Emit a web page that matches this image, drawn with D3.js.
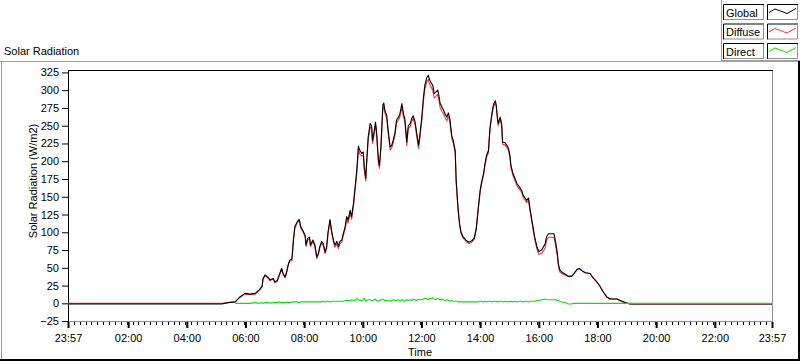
<!DOCTYPE html>
<html>
<head>
<meta charset="utf-8">
<script src="https://cdn.jsdelivr.net/npm/d3@7"></script>
<style>
  body { margin: 0; background: #fff; }
  svg { display: block; font-family: "Liberation Sans", Arial, sans-serif; font-size: 11px; }
</style>
</head>
<body>
<svg></svg>
<script>
// readings, one entry per time stamp (first 23:57 is the day before)
const times = [
  "23:57","05:12","05:24","05:39","05:49","05:59","06:09","06:20","06:28","06:34",
  "06:36","06:40","06:47","06:50","06:57","07:00","07:05","07:09","07:14","07:17",
  "07:21","07:24","07:28","07:31","07:35","07:38","07:41","07:46","07:50","07:53",
  "07:57","08:02","08:04","08:07","08:11","08:13","08:18","08:22","08:26","08:29",
  "08:32","08:36","08:39","08:43","08:46","08:49","08:53","08:56","09:00","09:03",
  "09:07","09:10","09:13","09:17","09:20","09:24","09:27","09:30","09:34","09:37",
  "09:41","09:44","09:48","09:51","09:54","09:58","10:01","10:03","10:06","10:08",
  "10:11","10:15","10:18","10:20","10:23","10:26","10:28","10:32","10:34","10:37",
  "10:41","10:43","10:45","10:49","10:52","10:56","10:59","11:02","11:06","11:09",
  "11:13","11:16","11:20","11:23","11:26","11:30","11:33","11:37","11:40","11:43",
  "11:47","11:50","11:54","11:57","12:01","12:04","12:07","12:11","12:14","12:16",
  "12:19","12:23","12:26","12:29","12:33","12:35","12:38","12:42","12:45","12:48",
  "12:52","12:55","12:58","13:02","13:05","13:09","13:11","13:13","13:15","13:18",
  "13:21","13:25","13:31","13:37","13:43","13:48","13:52","13:56","14:00","14:03",
  "14:07","14:10","14:13","14:17","14:20","14:24","14:27","14:31","14:33","14:35",
  "14:37","14:41","14:44","14:46","14:51","14:55","14:58","15:01","15:03","15:07",
  "15:11","15:15","15:20","15:25","15:28","15:32","15:35","15:39","15:42","15:44",
  "15:48","15:52","15:56","16:00","16:06","16:13","16:16","16:20","16:26","16:31",
  "16:35","16:38","16:40","16:43","16:47","16:54","17:00","17:07","17:11","17:14",
  "17:19","17:23","17:28","17:35","17:45","17:52","17:59","18:05","18:12","18:19",
  "18:26","18:40","18:46","18:57","19:07","23:57"
];

const globalVals = [
  -1,-1,1,2,9,14,13,14,19,24,
  35,40,36,33,35,30,32,40,49,42,
  37,44,56,61,62,89,108,115,118,108,
  103,96,82,91,93,82,89,82,65,70,
  80,87,84,72,80,101,118,103,89,82,
  87,80,87,89,98,108,122,117,131,122,
  141,162,190,221,215,211,213,192,176,201,
  234,253,250,229,241,255,243,201,194,220,
  279,282,272,264,243,220,222,229,241,258,
  262,267,281,267,260,227,250,253,260,264,
  255,241,222,239,264,290,307,318,321,316,
  311,307,295,297,300,295,282,276,272,267,
  262,268,260,236,229,215,173,152,133,112,
  100,94,89,86,88,92,105,133,159,171,
  183,197,208,215,246,267,279,285,279,264,
  253,262,253,227,226,222,218,208,194,183,
  176,169,164,159,152,148,145,148,133,125,
  108,92,80,73,75,84,94,98,98,98,
  84,70,56,47,44,41,38,38,41,44,
  48,49,46,43,42,35,30,24,16,9,
  6,6,4,1,-1,-1
];

const diffuseVals = [
  0,0,1,2,9,13,12,13,18,23,
  34,39,35,32,34,29,31,38,48,41,
  36,42,55,60,60,87,106,113,117,106,
  101,94,80,89,91,80,87,80,63,68,
  78,85,82,70,77,98,116,100,86,79,
  84,77,84,86,95,105,118,113,127,118,
  137,158,185,216,210,207,209,188,172,197,
  230,248,246,225,237,250,239,197,190,216,
  274,277,268,260,239,216,218,225,237,254,
  258,263,276,263,256,222,246,249,256,260,
  251,236,218,234,259,285,301,312,315,310,
  305,300,289,291,294,289,276,270,267,262,
  257,263,256,232,225,212,170,149,130,110,
  98,92,87,84,86,90,103,131,156,168,
  180,194,205,212,243,264,276,282,276,261,
  250,259,250,224,223,219,215,205,191,180,
  173,166,161,156,149,145,142,145,130,122,
  105,89,77,69,70,78,89,93,93,93,
  79,66,52,44,42,40,38,38,41,44,
  48,49,46,43,42,35,30,24,16,9,
  6,6,4,1,-1,-1
];

const directVals = [
  null,null,null,0,0,0,0,1,0,1,
  0,1,1,0,1,1,1,2,1,1,
  1,2,1,1,2,2,2,2,1,2,
  2,2,2,2,2,2,2,2,2,2,
  2,2,3,2,3,3,2,3,3,3,
  3,3,3,3,3,4,4,4,4,5,
  4,4,7,5,4,4,5,7,3,4,
  5,5,4,4,5,6,4,3,4,5,
  6,5,4,4,4,3,4,5,4,4,
  5,3,5,4,3,5,4,5,4,6,
  5,4,6,5,5,6,7,6,5,7,
  6,8,6,5,7,6,5,6,5,4,
  5,4,3,4,3,3,3,3,2,2,
  2,2,2,2,2,2,2,2,3,3,
  2,3,2,3,3,2,3,3,2,3,
  2,3,3,2,3,2,3,2,3,2,
  3,2,3,3,2,3,3,2,3,3,
  3,3,4,4,5,6,5,5,5,5,
  5,4,4,3,2,1,-1,-1,0,0,
  0,0,0,0,0,0,0,0,0,0,
  0,0,0,0,0,0
];

const seriesNames  = ["Global", "Diffuse", "Direct"];
const seriesColors = ["#000000", "#ff3333", "#00e600"];
const yTicks = [-25, 0, 25, 50, 75, 100, 125, 150, 175, 200, 225, 250, 275, 300, 325];
const xTickLabels = ["23:57","02:00","04:00","06:00","08:00","10:00","12:00",
                     "14:00","16:00","18:00","20:00","22:00","23:57"];

const parseTime = d3.timeParse("%H:%M");
const toDate = (s, first) => first ? d3.timeDay.offset(parseTime(s), -1) : parseTime(s);

const svg = d3.select("svg").attr("width", 800).attr("height", 361);

const plot = { left: 68, right: 772, top: 70, bottom: 322 };

const tStart = toDate(times[0], true);
const tEnd   = toDate(times[times.length - 1], false);

const xScale = d3.scaleTime()
  .domain([tStart, tEnd])
  .range([plot.left, plot.right]);
const yScale = d3.scaleLinear()
  .domain([-25, 325])
  .range([321.1, 72.4]);

// outer panel frame
svg.append("line").attr("x1", 0).attr("x2", 800).attr("y1", 61.5).attr("y2", 61.5)
  .attr("stroke", "#a0a0a0");
svg.append("line").attr("x1", 1.5).attr("x2", 1.5).attr("y1", 61).attr("y2", 361)
  .attr("stroke", "#a0a0a0");
svg.append("line").attr("x1", 799).attr("x2", 799).attr("y1", 61).attr("y2", 361)
  .attr("stroke", "#000").attr("stroke-width", 2);
svg.append("line").attr("x1", 0).attr("x2", 800).attr("y1", 360).attr("y2", 360)
  .attr("stroke", "#000").attr("stroke-width", 2);

svg.append("text")
  .attr("x", 4).attr("y", 55)
  .attr("fill", "#000")
  .text("Solar Radiation");

// plot area
svg.append("rect")
  .attr("x", plot.left).attr("y", plot.top)
  .attr("width", plot.right - plot.left).attr("height", plot.bottom - plot.top)
  .attr("fill", "#fff");
svg.append("line").attr("x1", plot.right + 0.5).attr("x2", plot.right + 0.5)
  .attr("y1", plot.top).attr("y2", plot.bottom).attr("stroke", "#909090");
svg.append("line").attr("x1", plot.left).attr("x2", plot.right + 1)
  .attr("y1", plot.bottom - 0.5).attr("y2", plot.bottom - 0.5).attr("stroke", "#909090");
svg.append("line").attr("x1", plot.left).attr("x2", plot.right + 1)
  .attr("y1", plot.top + 0.5).attr("y2", plot.top + 0.5).attr("stroke", "#000");

// y axis
const yAxis = d3.axisLeft(yScale)
  .tickValues(yTicks)
  .tickSize(6)
  .tickPadding(3);
const yAxisG = svg.append("g")
  .attr("transform", `translate(${plot.left},0)`)
  .call(yAxis);
yAxisG.select(".domain").remove();
yAxisG.selectAll(".tick line").attr("stroke", "#000").attr("x2", -6);
yAxisG.selectAll(".tick text")
  .attr("fill", "#000")
  .attr("font-size", "11px")
  .attr("font-family", "Liberation Sans, Arial, sans-serif");
svg.append("line")
  .attr("x1", plot.left + 0.5).attr("x2", plot.left + 0.5)
  .attr("y1", plot.top).attr("y2", plot.bottom)
  .attr("stroke", "#000");

svg.append("text")
  .attr("transform", "rotate(-90)")
  .attr("x", -181).attr("y", 37)
  .attr("text-anchor", "middle")
  .attr("fill", "#000")
  .text("Solar Radiation (W/m2)");

// x axis: minor ticks every 12 minutes from the start, major ticks on labels
const minorTicks = d3.range(0, 24 * 60 + 1, 12).map(m => d3.timeMinute.offset(tStart, m));
const majorTicks = xTickLabels.map((s, i) => toDate(s, i === 0));

svg.append("g").selectAll("line").data(minorTicks)
  .enter().append("line")
    .attr("x1", d => Math.round(xScale(d)) + 0.5)
    .attr("x2", d => Math.round(xScale(d)) + 0.5)
    .attr("y1", plot.bottom)
    .attr("y2", plot.bottom + 3)
    .attr("stroke", "#000");

const xAxis = d3.axisBottom(xScale)
  .tickValues(majorTicks)
  .tickFormat((d, i) => xTickLabels[i])
  .tickSize(6)
  .tickPadding(6);
const xAxisG = svg.append("g")
  .attr("transform", `translate(0,${plot.bottom})`)
  .call(xAxis);
xAxisG.select(".domain").remove();
xAxisG.selectAll(".tick line").attr("stroke", "#000").attr("stroke-width", 2);
xAxisG.selectAll(".tick text")
  .attr("fill", "#000")
  .attr("font-size", "11px")
  .attr("font-family", "Liberation Sans, Arial, sans-serif");

svg.append("text")
  .attr("x", (plot.left + plot.right) / 2).attr("y", 356)
  .attr("text-anchor", "middle")
  .attr("fill", "#000")
  .text("Time");

// series
const rows = times.map((t, i) => ({
  t: toDate(t, i === 0),
  g: globalVals[i],
  d: diffuseVals[i],
  r: directVals[i]
}));

const lineFor = key => d3.line()
  .defined(d => d[key] != null)
  .x(d => xScale(d.t))
  .y(d => yScale(d[key]));

// draw order: diffuse, global, direct
[["d", 1], ["g", 0], ["r", 2]].forEach(([key, ci]) => {
  svg.append("path")
    .attr("d", lineFor(key)(rows))
    .attr("fill", "none")
    .attr("stroke", seriesColors[ci])
    .attr("stroke-width", 1.1)
    .attr("stroke-linejoin", "round");
});

// legend panel
svg.append("rect")
  .attr("x", 721).attr("y", 0).attr("width", 79).attr("height", 61)
  .attr("fill", "#fff");
svg.append("line").attr("x1", 721.5).attr("x2", 721.5).attr("y1", 0).attr("y2", 61)
  .attr("stroke", "#a0a0a0");
svg.append("line").attr("x1", 721).attr("x2", 800).attr("y1", 60.5).attr("y2", 60.5)
  .attr("stroke", "#a0a0a0");

function sunkenBox(g, x, y, w, h) {
  g.append("rect").attr("x", x).attr("y", y).attr("width", w).attr("height", h).attr("fill", "#fff");
  g.append("path")
    .attr("d", `M${x + 0.5},${y + h} V${y + 0.5} H${x + w}`)
    .attr("fill", "none").attr("stroke", "#000");
  g.append("path")
    .attr("d", `M${x + 1},${y + h - 0.5} H${x + w - 0.5} V${y + 1}`)
    .attr("fill", "none").attr("stroke", "#909090");
}

seriesNames.forEach((name, i) => {
  const y0 = 4 + i * 19.5;
  const g = svg.append("g");
  sunkenBox(g, 723, y0, 41, 16);
  g.append("text")
    .attr("x", 726).attr("y", y0 + 12.5)
    .attr("fill", "#000")
    .text(name);
  sunkenBox(g, 767, y0, 31, 16);
  g.append("polyline")
    .attr("points", [[769, y0 + 8.5], [775, y0 + 5], [787, y0 + 9.5], [796, y0 + 4.5]].join(" "))
    .attr("fill", "none")
    .attr("stroke", seriesColors[i])
    .attr("stroke-width", 1);
});
</script>
</body>
</html>
